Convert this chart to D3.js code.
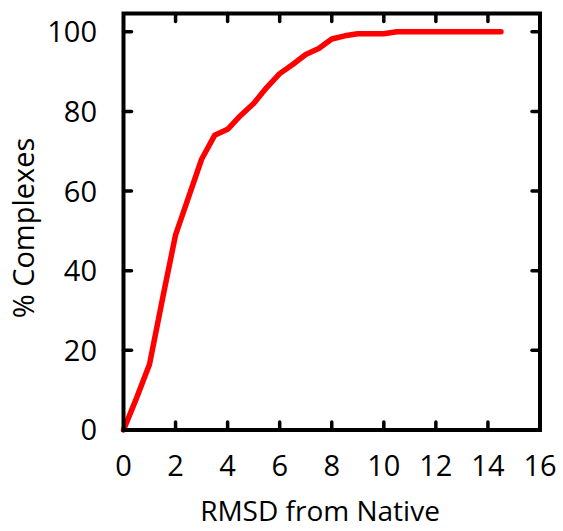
<!DOCTYPE html>
<html><head><meta charset="utf-8">
<script src="https://cdn.jsdelivr.net/npm/d3@7"></script>
<style>body{margin:0;background:#fff}svg{display:block}</style>
</head><body>
<svg id="c" width="563" height="531"></svg>
<script>
const rmsd = [0,0.5,1,1.5,2,2.5,3,3.5,4,4.5,5,5.5,6,6.5,7,7.5,8,8.5,9,9.5,10,10.5,11,11.5,12,12.5,13,13.5,14,14.5];
const pctComplexes = [0,8,16.5,33,49,58.5,68,74,75.5,79,82,86,89.5,91.8,94.3,95.8,98.2,99,99.5,99.5,99.5,100,100,100,100,100,100,100,100,100];
const xTicks = [0,2,4,6,8,10,12,14,16];
const yTicks = [0,20,40,60,80,100];
const xLabel = "RMSD from Native";
const yLabel = "% Complexes";

const svg = d3.select("#c");
const L=123.5, R=540, T=13.5, B=430;
const x = d3.scaleLinear().domain([0,16]).range([L,R]);
const y = d3.scaleLinear().domain([0,104.6]).range([B,T]);
const font = "'Open Sans', sans-serif";

// line
svg.append("path")
  .datum(rmsd.map((d,i)=>[d,pctComplexes[i]]))
  .attr("fill","none").attr("stroke","#ff0000").attr("stroke-width",5.5)
  .attr("stroke-linejoin","round").attr("stroke-linecap","round")
  .attr("d", d3.line().x(d=>x(d[0])).y(d=>y(d[1])));

// ticks inside
const tk = 8;
const g = svg.append("g").attr("stroke","#000").attr("stroke-width",3.5).attr("stroke-linecap","round");
xTicks.filter(t=>t>0&&t<16).forEach(t=>{
  g.append("line").attr("x1",x(t)).attr("x2",x(t)).attr("y1",B).attr("y2",B-tk);
  g.append("line").attr("x1",x(t)).attr("x2",x(t)).attr("y1",T).attr("y2",T+tk);
});
yTicks.filter(t=>t>0).forEach(t=>{
  g.append("line").attr("y1",y(t)).attr("y2",y(t)).attr("x1",L).attr("x2",L+tk);
  g.append("line").attr("y1",y(t)).attr("y2",y(t)).attr("x1",R).attr("x2",R-tk);
});
// frame
svg.append("rect").attr("x",L).attr("y",T).attr("width",R-L).attr("height",B-T)
  .attr("fill","none").attr("stroke","#000").attr("stroke-width",4);

// tick labels
svg.append("g").selectAll("text").data(xTicks).join("text")
  .attr("x",d=>x(d)).attr("y",476).attr("text-anchor","middle")
  .attr("font-family",font).attr("font-size",29).text(d=>d);
svg.append("g").selectAll("text").data(yTicks).join("text")
  .attr("x",97).attr("y",d=>y(d)).attr("dy","0.36em").attr("text-anchor","end")
  .attr("font-family",font).attr("font-size",29).text(d=>d);

svg.append("text").attr("x",320).attr("y",521).attr("text-anchor","middle")
  .attr("font-family",font).attr("font-size",28).text(xLabel);
svg.append("text").attr("transform","translate(34,228) rotate(-90)").attr("text-anchor","middle")
  .attr("font-family",font).attr("font-size",29).text(yLabel);
</script>
</body></html>
